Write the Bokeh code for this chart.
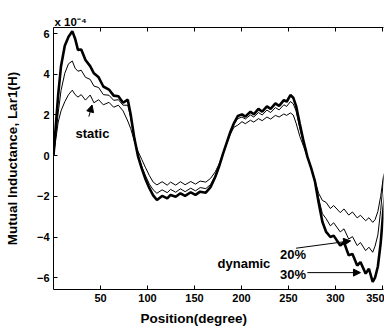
from bokeh.plotting import figure
from bokeh.models import (Range1d, LinearAxis, FixedTicker, Label, Arrow, NormalHead, Title,
                          CustomLabelingPolicy)
from bokeh.embed import file_html
from bokeh.resources import INLINE

# ---- data (rotor position in degrees, inductance in units of 1e-4 H) ----
position = [0, 2, 5, 8, 12, 16, 20,
            23, 26, 29.5, 34, 39, 43, 48, 53, 59, 64,
            69, 74, 79, 82, 86, 90, 94, 98, 102, 106,
            110, 115.5, 121, 124.5, 130, 135, 140, 146, 151, 156,
            162, 167, 172, 176, 180, 184, 188, 192, 196, 200.5,
            204, 209.5, 213, 218, 222, 227, 231, 236, 240, 245,
            248, 252, 255, 258, 262, 266, 270, 274, 278, 282,
            286, 290, 294.5, 298, 305, 309, 314, 318, 323, 326.5,
            332, 335.5, 339.5, 342, 345, 348, 351, 355, 360]

dynamic_30 = [0, 1.2, 3.0, 4.4, 5.4, 5.85, 6.12,
              5.75, 5.2, 5.22, 4.7, 4.4, 4.05, 3.85, 3.4, 3.25, 2.95,
              2.92, 2.6, 2.75, 2.05, 0.85, -0.05, -0.65, -1.17, -1.6, -1.95,
              -2.18, -1.98, -2.1, -1.93, -2.02, -1.85, -1.98, -1.8, -1.93, -1.77,
              -1.82, -1.55, -1.05, -0.55, 0.05, 0.6, 1.15, 1.6, 1.95, 2.03,
              1.92, 2.16, 2.03, 2.3, 2.16, 2.42, 2.3, 2.57, 2.45, 2.73,
              2.65, 2.98, 2.85, 2.45, 1.55, 0.7, -0.05, -0.6, -1.25, -2.3,
              -3.25, -3.75, -4.0, -3.93, -4.42, -4.26, -4.9, -4.83, -5.4, -5.23,
              -5.8, -5.56, -6.2, -6.0, -5.45, -4.3, -2.6, -1.0, 0]

dynamic_20 = [0, 0.85, 2.1, 3.2, 4.05, 4.52, 4.65,
              4.3, 4.15, 4.2, 3.85, 3.75, 3.42, 3.35, 3.0, 2.97, 2.72,
              2.75, 2.48, 2.48, 1.9, 0.85, 0.0, -0.55, -1.0, -1.4, -1.68,
              -1.85, -1.68, -1.82, -1.66, -1.8, -1.63, -1.77, -1.6, -1.73, -1.57,
              -1.62, -1.42, -1.0, -0.52, 0.05, 0.6, 1.12, 1.55, 1.82, 1.9,
              1.8, 2.0, 1.9, 2.12, 2.0, 2.24, 2.12, 2.36, 2.25, 2.5,
              2.42, 2.66, 2.55, 2.2, 1.35, 0.6, -0.05, -0.62, -1.25, -2.1,
              -2.85, -3.1, -3.45, -3.3, -3.75, -3.6, -4.1, -3.98, -4.42, -4.27,
              -4.67, -4.5, -4.75, -4.45, -3.9, -2.7, -1.1, -0.4, 0]

static = [0, 0.65, 1.65, 2.2, 2.65, 3.0, 3.22,
          3.0, 2.88, 3.0, 2.73, 2.98, 2.6, 2.75, 2.5, 2.62, 2.38,
          2.48, 2.2, 1.7, 1.35, 0.72, 0.2, -0.2, -0.6, -0.98, -1.3,
          -1.44, -1.28, -1.45, -1.3, -1.45, -1.28, -1.43, -1.27, -1.4, -1.25,
          -1.3, -1.12, -0.8, -0.42, 0.05, 0.55, 1.05, 1.4, 1.5, 1.67,
          1.57, 1.74, 1.65, 1.82, 1.72, 1.9, 1.8, 1.98, 1.9, 2.05,
          1.98, 2.1, 2.0, 1.6, 0.95, 0.45, -0.05, -0.6, -1.2, -1.85,
          -2.2, -2.3, -2.6, -2.45, -2.8, -2.62, -2.92, -2.77, -3.06, -2.93,
          -3.2, -3.05, -3.28, -3.15, -2.75, -2.0, -1.0, -0.35, 0]

x_ticks = [50, 100, 150, 200, 250, 300, 350]
y_ticks = [-6, -4, -2, 0, 2, 4, 6]

FONT = "Liberation Sans"

p = figure(width=384, height=329, output_backend="svg", toolbar_location=None,
           x_range=Range1d(0, 351), y_range=Range1d(-6.58, 6.3),
           min_border_left=53, min_border_right=1, min_border_top=27,
           min_border_bottom=38)
p.grid.visible = False
p.outline_line_color = None
p.background_fill_color = "white"
p.border_fill_color = "white"

for ax in (p.xaxis[0], p.yaxis[0]):
    ax.major_tick_in = 4
    ax.major_tick_out = 0
    ax.minor_tick_line_color = None
    ax.axis_line_color = "black"
    ax.major_tick_line_color = "black"
    ax.major_label_text_font = FONT
    ax.major_label_text_font_style = "bold"
    ax.major_label_text_font_size = "11px"
    ax.major_label_text_color = "black"
p.xaxis[0].ticker = FixedTicker(ticks=x_ticks)
p.yaxis[0].ticker = FixedTicker(ticks=y_ticks)
p.xaxis[0].major_label_standoff = 4
p.yaxis[0].major_label_standoff = 4

yax = p.yaxis[0]
yax.axis_label = "Mutual Inductance, Lar1(H)"
yax.axis_label_text_font = FONT
yax.axis_label_text_font_style = "bold"
yax.axis_label_text_font_size = "13.5px"
yax.axis_label_text_color = "black"
yax.axis_label_standoff = 14

# top border with inward ticks only (no tick labels)
no_labels = CustomLabelingPolicy(
    code="for (let i = 0; i < indices.size; i++) { indices.unset(i) } return indices")
top = LinearAxis(ticker=FixedTicker(ticks=x_ticks), major_label_text_font_size="0px",
                 major_label_standoff=0, major_label_policy=no_labels,
                 major_tick_in=4, major_tick_out=0, minor_tick_line_color=None,
                 axis_line_color="black", major_tick_line_color="black")
p.add_layout(top, "above")

p.add_layout(Title(text="x 10\u207b\u2074", align="left", offset=1, standoff=0,
                   text_font=FONT, text_font_style="bold", text_font_size="11.5px",
                   text_color="black"), "above")
p.add_layout(Title(text="Position(degree)", align="left", offset=87, standoff=8,
                   text_font=FONT, text_font_style="bold", text_font_size="13.5px",
                   text_color="black"), "below")

p.line(position, static, line_color="black", line_width=1)
p.line(position, dynamic_20, line_color="black", line_width=1)
p.line(position, dynamic_30, line_color="black", line_width=2.6)

def lab(x, y, text, size="13px"):
    p.add_layout(Label(x=x, y=y, text=text, text_font=FONT, text_font_style="bold",
                       text_font_size=size, text_color="black", text_align="left",
                       text_baseline="alphabetic"))

lab(23.4, 1.11, "static")
lab(174.5, -5.3, "dynamic")
lab(241, -4.84, "20%")
lab(241, -5.82, "30%")

def arrow(x0, y0, x1, y1):
    p.add_layout(Arrow(end=NormalHead(size=7, fill_color="black", line_color="black"),
                       x_start=x0, y_start=y0, x_end=x1, y_end=y1,
                       line_color="black", line_width=1))

arrow(37.6, 1.92, 41, 2.49)
arrow(258, -4.55, 316, -4.19)
arrow(270, -5.75, 326.5, -5.75)

open("out.html", "w").write(file_html(p, INLINE))
